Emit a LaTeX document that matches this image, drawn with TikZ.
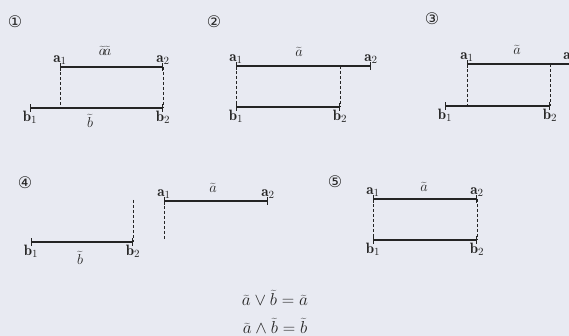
\documentclass[tikz,border=0pt]{standalone}
\usepackage{fontspec}
\usetikzlibrary{arrows.meta, positioning}
\newfontfamily\circfont{DejaVu Sans}
\definecolor{paper}{HTML}{E8EAF2}
\definecolor{ink}{HTML}{242424}
\tikzset{
  seg/.style={{Bar[width=8pt]}-{Bar[width=8pt]}, line width=1.2pt, draw=ink},
  link/.style={dash pattern=on 3pt off 2pt, line width=1pt, draw=ink},
  lbl/.style={font=\fontsize{15}{17}\selectfont, text=ink, inner sep=1pt},
  rule/.style={font=\fontsize{17}{19}\selectfont, text=ink, inner sep=1pt},
  num/.style={font=\circfont\fontsize{16}{18}\selectfont, text=ink, inner sep=0pt},
}

\begin{document}
\begin{tikzpicture}[x=1pt, y=-1pt, node distance=1pt]
    \fill[paper] (0,0) rectangle (569,336);
    \useasboundingbox (0,0) rectangle (569,336);
    \clip (0,0) rectangle (569,336);
    % 1
    \node[num] (n1) at (15,22) {①};
    \coordinate (pa1) at (60,67);  \coordinate (pa2) at (163,67);
    \coordinate (pb1) at (30,108); \coordinate (pb2) at (163,108);
    \coordinate (pc1) at (60,108);
    \draw[seg] (pa1) -- (pa2); \draw[seg] (pb1) -- (pb2);
    \draw[link] (pa1) -- (pc1); \draw[link] (pa2) -- (pb2);
    \node[lbl, above=of pa1] (la1) {$\mathbf{a}_1$};
    \node[lbl, above=of pa2] (la2) {$\mathbf{a}_2$};
    \node[lbl, below=2pt of pb1] (lb1) {$\mathbf{b}_1$};
    \node[lbl, below=2pt of pb2] (lb2) {$\mathbf{b}_2$};
    \node[lbl] (ta) at (105,51) {$\widetilde{a}\mkern-3mu\widetilde{a}$};
    \node[lbl] (tb) at (90,121) {$\widetilde{b}$};
    % 2
    \node[num] (n2) at (214,22) {②};
    \coordinate (qa1) at (236,66); \coordinate (qa2) at (371,66);
    \coordinate (qb1) at (236,107); \coordinate (qb2) at (340,107);
    \coordinate (qc2) at (340,66);
    \draw[seg] (qa1) -- (qa2); \draw[seg] (qb1) -- (qb2);
    \draw[link] (qa1) -- (qb1); \draw[link] (qc2) -- (qb2);
    \node[lbl, above=of qa1] (ma1) {$\mathbf{a}_1$};
    \node[lbl, above=of qa2] (ma2) {$\mathbf{a}_2$};
    \node[lbl, below=2pt of qb1] (mb1) {$\mathbf{b}_1$};
    \node[lbl, below=2pt of qb2] (mb2) {$\mathbf{b}_2$};
    \node[lbl] (ua) at (299,52) {$\widetilde{a}$};
    % 3
    \node[num] (n3) at (432,19) {③};
    \coordinate (ra1) at (467,64); \coordinate (ra2) at (600,64);
    \coordinate (rb1) at (445,106); \coordinate (rb2) at (550,106);
    \coordinate (rc1) at (467,106); \coordinate (rc2) at (550,64);
    \draw[seg] (ra1) -- (ra2); \draw[seg] (rb1) -- (rb2);
    \draw[link] (ra1) -- (rc1); \draw[link] (rc2) -- (rb2);
    \node[lbl, above=of ra1] (sa1) {$\mathbf{a}_1$};
    \node[lbl, above=of ra2, xshift=-30pt] (sa2) {$\mathbf{a}_2$};
    \node[lbl, below=2pt of rb1] (sb1) {$\mathbf{b}_1$};
    \node[lbl, below=2pt of rb2] (sb2) {$\mathbf{b}_2$};
    \node[lbl] (va) at (517,50) {$\widetilde{a}$};
    % 4
    \node[num] (n4) at (25,183) {④};
    \coordinate (wa1) at (164,201); \coordinate (wa2) at (268,201);
    \coordinate (wb1) at (31,242);  \coordinate (wb2) at (133,242);
    \coordinate (wc1) at (164,240); \coordinate (wc2) at (133,200);
    \draw[seg] (wa1) -- (wa2); \draw[seg] (wb1) -- (wb2);
    \draw[link] (wa1) -- (wc1); \draw[link] (wc2) -- (wb2);
    \node[lbl, above=of wa1] (xa1) {$\mathbf{a}_1$};
    \node[lbl, above=of wa2] (xa2) {$\mathbf{a}_2$};
    \node[lbl, below=2pt of wb1] (xb1) {$\mathbf{b}_1$};
    \node[lbl, below=2pt of wb2] (xb2) {$\mathbf{b}_2$};
    \node[lbl] (ya) at (213,188) {$\widetilde{a}$};
    \node[lbl] (yb) at (80,258) {$\widetilde{b}$};
    % 5
    \node[num] (n5) at (335,182) {⑤};
    \coordinate (za1) at (373,199); \coordinate (za2) at (477,199);
    \coordinate (zb1) at (373,240); \coordinate (zb2) at (477,240);
    \draw[seg] (za1) -- (za2); \draw[seg] (zb1) -- (zb2);
    \draw[link] (za1) -- (zb1); \draw[link] (za2) -- (zb2);
    \node[lbl, above=of za1] (ka1) {$\mathbf{a}_1$};
    \node[lbl, above=of za2] (ka2) {$\mathbf{a}_2$};
    \node[lbl, below=2pt of zb1] (kb1) {$\mathbf{b}_1$};
    \node[lbl, below=2pt of zb2] (kb2) {$\mathbf{b}_2$};
    \node[lbl] (ka) at (424,187) {$\widetilde{a}$};
    % rules
    \node[rule] (f1) at (275,298) {$\widetilde{a}\vee\widetilde{b}=\widetilde{a}$};
    \node[rule] (f2) at (275,326) {$\widetilde{a}\wedge\widetilde{b}=\widetilde{b}$};
  \end{tikzpicture}
\end{document}
